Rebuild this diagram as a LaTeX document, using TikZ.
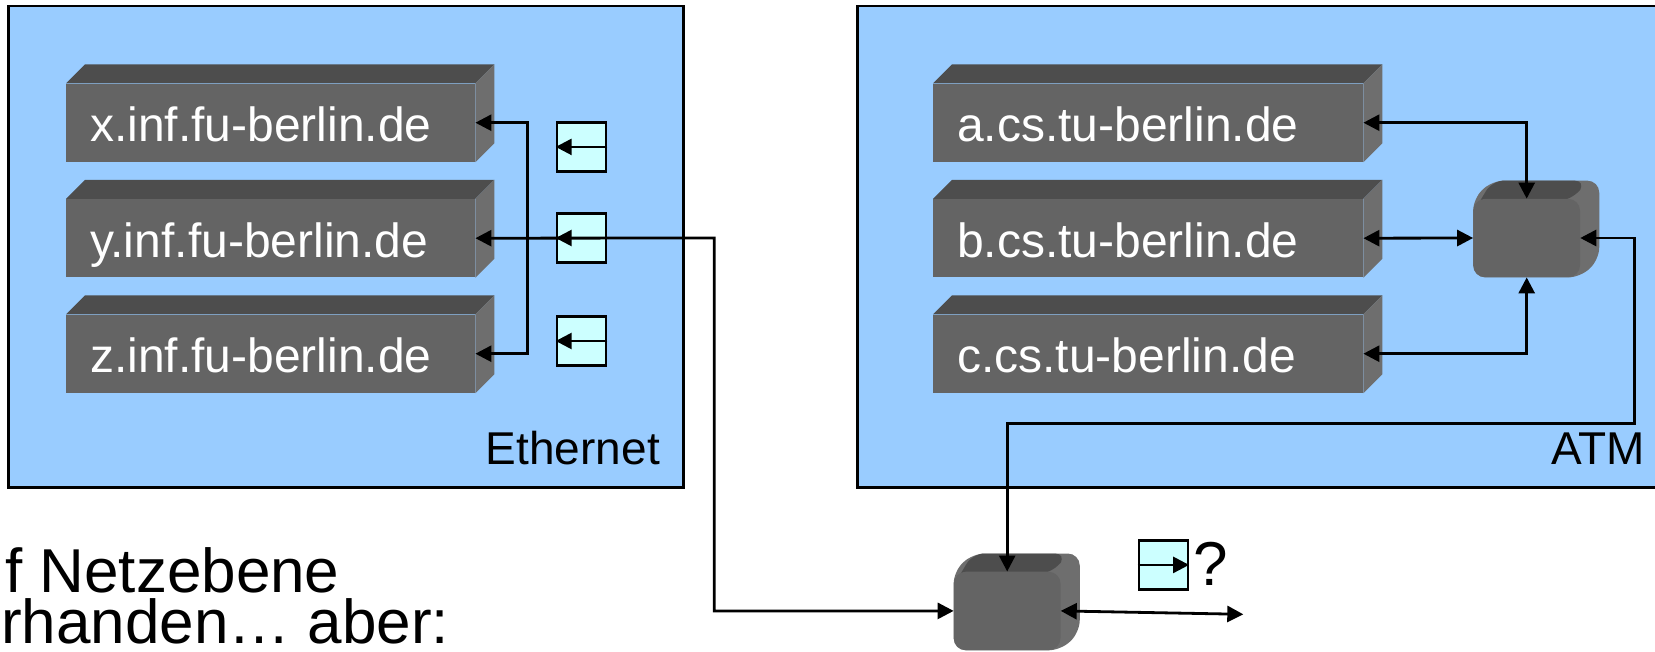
\documentclass[tikz,border=0pt]{standalone}
\usepackage{fontspec}
\setmainfont{Liberation Sans}
\usetikzlibrary{arrows.meta}
\pgfdeclarelayer{bg}
\pgfsetlayers{bg,main}
\definecolor{netblue}{HTML}{99CCFF}
\definecolor{bufcyan}{HTML}{CCFFFF}
\definecolor{hostfront}{HTML}{646464}
\definecolor{hosttop}{HTML}{4D4D4D}
\definecolor{hostside}{HTML}{6E6E6E}
\begin{document}
\begin{tikzpicture}[x=1pt,y=-1pt,
  net/.style={draw=black, line width=2.5pt, fill=netblue},
  host/.style={rectangle, fill=hostfront, draw=none, text=white,
    font=\fontsize{48}{56}\selectfont, inner xsep=24pt, inner ysep=0pt,
    text height=38pt, text depth=0pt, minimum height=78.4pt,
    anchor=north west, align=left},
  hostL/.style={host, text width=361pt},
  hostR/.style={host, text width=382pt},
  switchbox/.style={rectangle, rounded corners=12pt, fill=hostfront,
    minimum width=106.7pt, minimum height=78.4pt, inner sep=0pt},
  buf/.style={rectangle, draw=black, line width=2.6pt, fill=bufcyan,
    minimum width=49pt, minimum height=49pt, inner sep=0pt},
  tip/.tip={Triangle[length=16pt,width=16pt]},
  conn/.style={line width=2.8pt, tip-tip},
  bufarr/.style={line width=2.6pt, -tip},
  lbl/.style={inner sep=0pt, font=\fontsize{46}{52}\selectfont},
  big/.style={inner sep=0pt, font=\fontsize{62}{70}\selectfont}
]
\useasboundingbox (0,0) rectangle (1655,651);

% hosts
\node[hostL] (xh) at (66,83.3) {x.inf.fu-berlin.de};
\node[hostL] (yh) at (66,198.8) {y.inf.fu-berlin.de};
\node[hostL] (zh) at (66,314.3) {z.inf.fu-berlin.de};
\node[hostR] (ah) at (933,83.3) {a.cs.tu-berlin.de};
\node[hostR] (bh) at (933,198.8) {b.cs.tu-berlin.de};
\node[hostR] (ch) at (933,314.3) {c.cs.tu-berlin.de};

% switches
\node[switchbox] (sw1) at (1526.7,238) {};
\node[switchbox] (sw2) at (1007.2,610.9) {};

% buffers
\node[buf] (b1) at (581.5,146.9) {};
\node[buf] (b2) at (581.5,238) {};
\node[buf] (b3) at (581.5,341) {};
\node[buf] (bq) at (1163.3,564.9) {};
\node[big, anchor=base west] (qm) at (1193,585.7) {?};

% labels
\node[lbl, anchor=base east] (eth) at (660,464) {Ethernet};
\node[lbl, anchor=base east] (atm) at (1645,464) {ATM};
\node[big, anchor=base west] (t1) at (5,592) {f Netzebene};
\node[big, anchor=base west] (t2) at (1,643) {rhanden… aber:};

\begin{pgfonlayer}{bg}
  \draw[net] (8.5,6) rectangle (683.3,487.3);
  \draw[net] (857.5,6) rectangle (1690,487.3);
  \foreach \n in {xh,yh,zh,ah,bh,ch} {
    \fill[hosttop] (\n.north west) -- ++(19,-19)
      -- ([shift={(19,-19)}]\n.north east) -- (\n.north east) -- cycle;
    \fill[hostside] (\n.north east) -- ++(19,-19)
      -- ([shift={(19,-19)}]\n.south east) -- (\n.south east) -- cycle;
  }
  \foreach \s in {sw1,sw2} {
    \fill[hostside, rounded corners=12pt] (\s.south west) -- (\s.north west)
      -- ++(19,-18) -- ([shift={(19,-18)}]\s.north east)
      -- ([shift={(19,-18)}]\s.south east) -- (\s.south east) -- cycle;
    \fill[hosttop, rounded corners=12pt] ([yshift=-14pt]\s.north west)
      -- ([shift={(19,-18)}]\s.north west)
      -- ([shift={(6,-18)}]\s.north east)
      -- ([shift={(-6,0)}]\s.north east) -- cycle;
  }
\end{pgfonlayer}

% connectors
\coordinate (jv) at (527.3,238);
\coordinate (m1) at (714.3,238);
\coordinate (r1) at (1634.3,423.3);
\coordinate (out) at (1243.3,614.3);

\draw[conn] (xh.east) -| (jv) |- (zh.east);
\draw[conn] (yh.east) -- (m1) |- (sw2.west);
\draw[conn] (ah.east) -| (sw1.north);
\draw[conn] (bh.east) -- (sw1.west);
\draw[conn] (ch.east) -| (sw1.south);
\draw[conn] (sw1.east) -| (r1) -| (sw2.north);
\draw[conn] (sw2.east) -- (out);

% buffer arrows
\draw[bufarr] (b1.east) -- (b1.west);
\draw[bufarr] (b2.east) -- (b2.west);
\draw[bufarr] (b3.east) -- (b3.west);
\draw[bufarr] (bq.west) -- (bq.east);
\end{tikzpicture}
\end{document}
